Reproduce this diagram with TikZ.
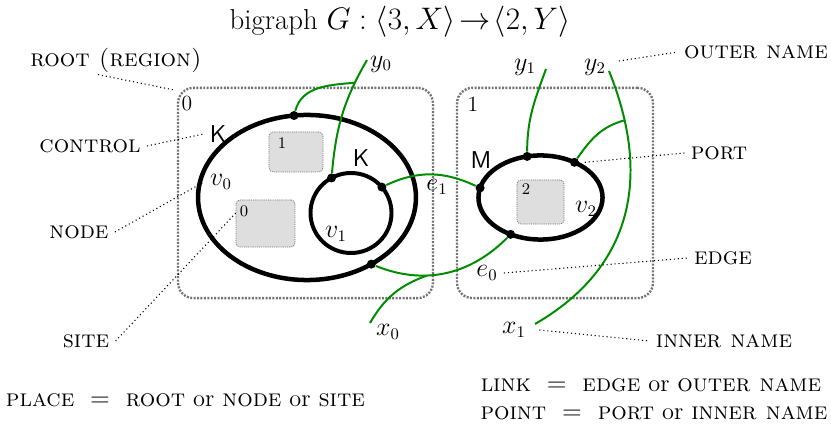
\documentclass[tikz,border=0pt]{standalone}
\usepackage{amsmath,amssymb}
\usepackage{tikz}
\usetikzlibrary{shapes.geometric,calc}

\begin{document}
\begin{tikzpicture}[
    x=0.0195cm, y=-0.0195cm,
    font=\fontsize{13.5}{16}\selectfont,
    root/.style={draw=black!55, line width=1.3pt, dash pattern=on 1.1pt off 0.8pt, rounded corners=0.3cm, minimum height=4.1cm},
    site/.style={draw=black!55, line width=0.4pt, dash pattern=on 0.6pt off 0.6pt, fill=black!13, rounded corners=0.08cm},
    bnode/.style={draw, ellipse, line width=2.5pt, inner sep=0pt, outer sep=0pt},
    port/.style={circle, fill, inner sep=0pt, minimum size=5pt},
    link/.style={green!55!black, line width=1.1pt},
    annot/.style={line width=0.6pt, dash pattern=on 0.6pt off 1.6pt},
    ctrl/.style={font=\fontsize{13.5}{16}\selectfont\sffamily},
    sitelbl/.style={font=\fontsize{9}{11}\selectfont, inner sep=1pt}
]
\path[use as bounding box, fill=white] (0,0) rectangle (831,424);

\node[font=\fontsize{16}{19}\selectfont] (title) at (400,22) {bigraph $G:\langle 3,X\rangle\!\to\!\langle 2,Y\rangle$};

\node[root, minimum width=4.97cm] (r0) at (305.5,193) {};
\node[root, minimum width=3.82cm] (r1) at (555,193) {};
\node[font=\fontsize{12}{14}\selectfont] (lr0) at (187,104) {0};
\node[font=\fontsize{12}{14}\selectfont] (lr1) at (473,104) {1};

\node[site, minimum width=1.05cm, minimum height=0.78cm] (s1) at (296,152) {};
\node[site, minimum width=1.15cm, minimum height=0.92cm] (s0) at (265.5,223.5) {};
\node[site, minimum width=0.92cm, minimum height=0.86cm] (s2) at (540.5,202) {};
\node[sitelbl] (ls1) at (282,143) {1};
\node[sitelbl] (ls0) at (244,211) {0};
\node[sitelbl] (ls2) at (526,189) {2};

\node[bnode, minimum width=4.25cm, minimum height=3.22cm] (v0) at (307,197.5) {};
\node[bnode, line width=2.2pt, minimum width=1.58cm, minimum height=1.56cm] (v1) at (351,213) {};
\node[bnode, minimum width=2.42cm, minimum height=1.64cm] (v2) at (540.5,197.5) {};

\node[ctrl] (lK0) at (218,134) {K};
\node[ctrl] (lK1) at (361,158) {K};
\node[ctrl] (lM) at (481,160) {M};
\node (lv0) at (221,182) {$v_0$};
\node (lv1) at (336,234) {$v_1$};
\node (lv2) at (586,209) {$v_2$};

\node[port] (p0) at (v0.99) {};
\node[port] (p1) at (v1.119) {};
\node[port] (p2) at (v1.40) {};
\node[port] (p3) at (v0.-46) {};
\node[port] (p4) at (v2.171) {};
\node[port] (p5) at (v2.108) {};
\node[port] (p6) at (v2.46) {};
\node[port] (p7) at (v2.231) {};

\coordinate (y0) at (367,60);
\coordinate (y1) at (546,69);
\coordinate (y2) at (609,71);
\coordinate (x0) at (370,323);
\coordinate (x1) at (535,324);
\node (ly0) at (381,64) {$y_0$};
\node (ly1) at (525,67) {$y_1$};
\node (ly2) at (595,67) {$y_2$};
\node (lx0) at (388,332) {$x_0$};
\node (lx1) at (514,330) {$x_1$};

\draw[link] (y0) to[out=240,in=85] coordinate[pos=0.2] (j0) (p1);
\draw[link] (p0) to[out=75,in=185] (j0);
\draw[link] (p2) to[out=25,in=155] (p4);
\draw[link] (p3) to[out=-22,in=225] coordinate[pos=0.36] (j2) (p7);
\draw[link] (x0) to[out=60,in=200] (j2);
\draw[link] (y1) to[out=250,in=90] (p5);
\draw[link] (y2) to[out=-68,in=30,looseness=1.1] coordinate[pos=0.16] (j1) (x1);
\draw[link] (p6) to[out=55,in=195] (j1);
\node (le1) at (437,187) {$e_1$};
\node (le0) at (487,273) {$e_0$};

\node (rootlbl) at (116,60) {\textsc{root (region)}};
\node (ctrllbl) at (90,146) {\textsc{control}};
\node (nodelbl) at (79,232) {\textsc{node}};
\node (sitelbl) at (86,341) {\textsc{site}};
\node (outerlbl) at (756,52) {\textsc{outer name}};
\node (portlbl) at (719,153) {\textsc{port}};
\node (edgelbl) at (723,258) {\textsc{edge}};
\node (innerlbl) at (724,341) {\textsc{inner name}};

\draw[annot] ($(rootlbl.south)+(-18,-4)$) -- (lr0.north west);
\draw[annot] (ctrllbl.east) -- (lK0.west);
\draw[annot] (nodelbl.east) -- (lv0.west);
\draw[annot] (sitelbl.east) -- (ls0.west);
\draw[annot] ([shift={(10,-10)}]y2) -- (outerlbl.west);
\draw[annot] ([xshift=3pt]p6.east) -- (portlbl.west);
\draw[annot] (le0.east) -- (edgelbl.west);
\draw[annot] ([xshift=4pt]lx1.east) -- (innerlbl.west);

\node (placedef) at (185.5,400) {\textsc{place}\ \ $=$\ \ \textsc{root} or \textsc{node} or \textsc{site}};
\node (linkdef) at (651,385) {\textsc{link}\ \ $=$\ \ \textsc{edge} or \textsc{outer name}};
\node (pointdef) at (654,413) {\textsc{point}\ \ $=$\ \ \textsc{port} or \textsc{inner name}};
\end{tikzpicture}
\end{document}
